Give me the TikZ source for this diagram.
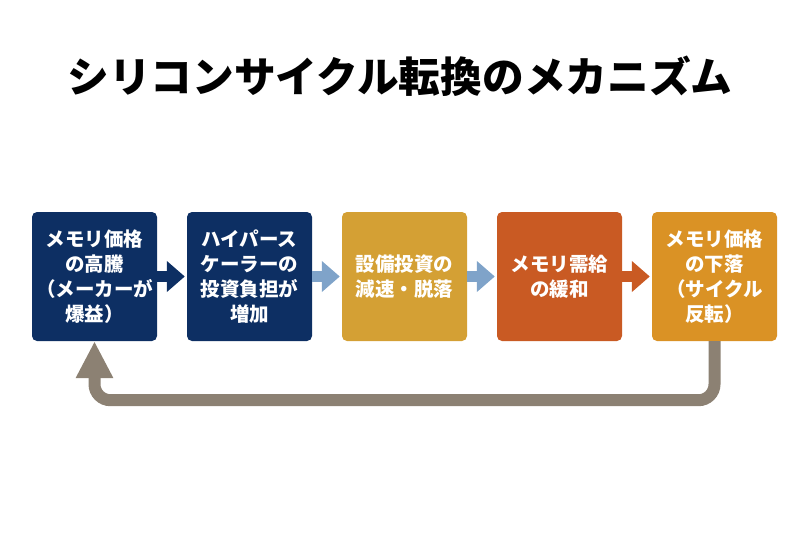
\documentclass[tikz,border=0pt]{standalone}
\usepackage{fontspec}
\setmainfont{Noto Sans CJK JP}
\usetikzlibrary{arrows.meta}

\definecolor{navy}{HTML}{0D2F63}
\definecolor{mustard}{HTML}{D4A034}
\definecolor{rust}{HTML}{C95A23}
\definecolor{amber}{HTML}{DA9225}
\definecolor{steel}{HTML}{7FA3C9}
\definecolor{taupe}{HTML}{8C8173}

\tikzset{
  stagebox/.style={rounded corners=5pt, minimum width=125pt, minimum height=129pt,
    inner sep=0pt, text=white, align=center,
    font=\bfseries\fontsize{19.5}{25}\selectfont},
  flow/.style={line width=11pt, -{Triangle[length=18pt,width=30pt]}},
  backflow/.style={line width=12pt, color=taupe, rounded corners=16pt,
    -{Triangle[length=37pt,width=35pt]}}
}

\begin{document}
\begin{tikzpicture}[x=1pt,y=-1pt]

    \useasboundingbox (0,0) rectangle (800,536);

    %title
    \node[font=\bfseries\fontsize{41.7}{42}\selectfont] (title) at (400,76) {シリコンサイクル転換のメカニズム};

    %stages
    \node[stagebox, fill=navy] (s1) at (94.5,276.5) {メモリ価格\\の高騰\\（メーカーが\\爆益）};
    \node[stagebox, fill=navy] (s2) at (249.5,276.5) {ハイパース\\ケーラーの\\投資負担が\\増加};
    \node[stagebox, fill=mustard] (s3) at (404.5,276.5) {設備投資の\\減速・脱落};
    \node[stagebox, fill=rust] (s4) at (559.5,276.5) {メモリ需給\\の緩和};
    \node[stagebox, fill=amber] (s5) at (714.5,276.5) {メモリ価格\\の下落\\（サイクル\\反転）};

    %arrows
    \draw[flow, navy] (s1.east) -- ([xshift=-2pt]s2.west);
    \draw[flow, steel] (s2.east) -- ([xshift=-2pt]s3.west);
    \draw[flow, steel] (s3.east) -- ([xshift=-2pt]s4.west);
    \draw[flow, rust] (s4.east) -- ([xshift=-2pt]s5.west);

    %back to start
    \draw[backflow] (s5.south) -- ++(0,59) -| (s1.south);

\end{tikzpicture}
\end{document}
